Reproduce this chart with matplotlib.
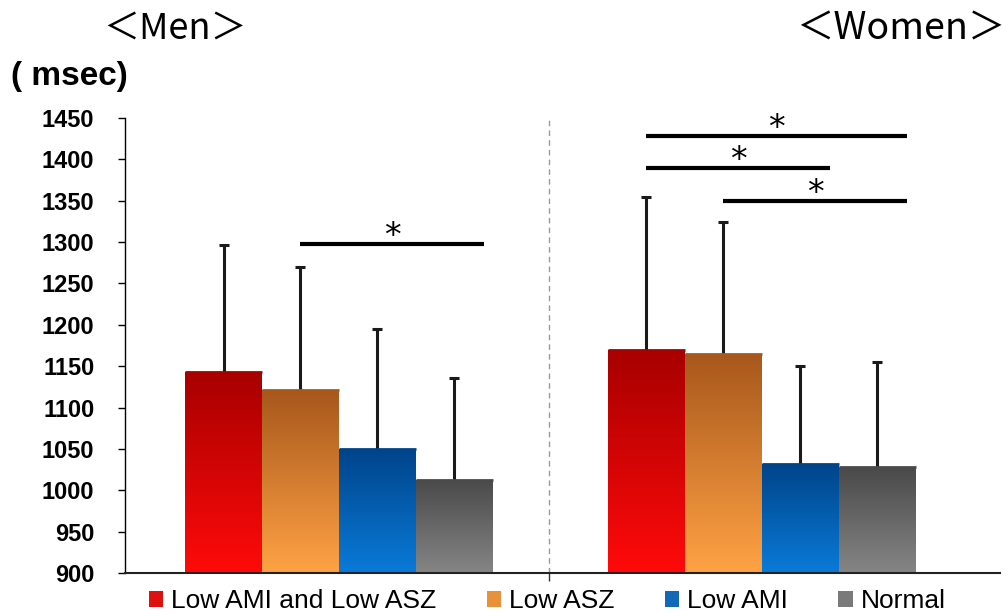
import matplotlib.pyplot as plt
import numpy as np
from matplotlib.colors import LinearSegmentedColormap
from matplotlib.patches import Patch

plt.rcParams["font.family"] = ["Liberation Sans", "DejaVu Sans"]

# data (msec)
groups = ["Men", "Women"]
categories = ["Low AMI and Low ASZ", "Low ASZ", "Low AMI", "Normal"]
means = {
    "Men":   [1143, 1121, 1050, 1013],
    "Women": [1170, 1165, 1032, 1028],
}
upper_err = {
    "Men":   [154, 149, 145, 123],
    "Women": [185, 159, 118, 127],
}
# significance brackets: (group, start bar, end bar, level)
brackets = [
    ("Men", 1, 3, 1298),
    ("Women", 0, 3, 1428),
    ("Women", 0, 2, 1390),
    ("Women", 1, 3, 1350),
]
y_ticks = np.arange(900, 1451, 50)

# gradient colours (top, bottom) per category
grad = [("#a80000", "#ff0a0a"), ("#a8581c", "#ffa245"),
        ("#00448a", "#0a7ad8"), ("#4a4a4a", "#858585")]
legend_colors = ["#e01010", "#e8903a", "#1468b8", "#7a7a7a"]

bar_w = 0.182
offsets = (np.arange(4) - 1.5) * bar_w

fig = plt.figure(figsize=(10.08, 6.16), dpi=100)
ax = fig.add_axes([0.124, 0.0698, 0.868, 0.7386])
ax.set_xlim(-0.506, 1.563)
ax.set_ylim(900, 1450)

ramp = np.linspace(0, 1, 64).reshape(-1, 1)
for gi, g in enumerate(groups):
    xs = gi + offsets
    tops = np.array(means[g]) + np.array(upper_err[g])
    # upper error bars only (drawn behind the bars)
    ax.vlines(xs, means[g], tops, color="#1a1a1a", lw=2.2, zorder=1.5)
    ax.plot(xs, tops, ls="none", marker="_", ms=7, mew=2.2,
            color="#1a1a1a", zorder=1.5)
    for i, x in enumerate(xs):
        top = means[g][i]
        cmap = LinearSegmentedColormap.from_list("g", [grad[i][1], grad[i][0]])
        bar = ax.bar(x, top - 900, bar_w, bottom=900, color="none",
                     edgecolor="none", zorder=2)[0]
        im = ax.imshow(ramp, cmap=cmap, aspect="auto", origin="lower",
                       extent=[x - bar_w / 2, x + bar_w / 2, 900, top],
                       zorder=2, interpolation="bilinear")
        im.set_clip_path(bar)
        # thin bevel on top
        ax.plot([x - bar_w / 2, x + bar_w / 2], [top, top], color=grad[i][0],
                lw=2, zorder=3, solid_capstyle="butt")

for g, b0, b1, lvl in brackets:
    gi = groups.index(g)
    x0 = gi + offsets[b0]
    x1 = gi + offsets[b1] + 0.07
    ax.plot([x0, x1], [lvl, lvl], color="black", lw=3, zorder=5,
            solid_capstyle="butt")
    ax.annotate("*", ((x0 + x1) / 2, lvl), xytext=(0, -1.5),
                textcoords="offset points", ha="center", va="baseline",
                fontsize=24, family="DejaVu Sans")

ax.axvline(0.496, color="#999999", lw=1, ls=(0, (4, 3)), zorder=1)

ax.set_yticks(y_ticks)
ax.set_yticklabels([str(v) for v in y_ticks], fontsize=17, fontweight="bold")
ax.set_xticks([0.496])
ax.set_xticklabels([""])
ax.tick_params(axis="x", length=6, width=1, color="#333333")
ax.tick_params(axis="y", length=5, width=1, pad=17)
for s in ("top", "right"):
    ax.spines[s].set_visible(False)
ax.spines["left"].set_linewidth(1)
ax.spines["bottom"].set_linewidth(1.5)
ax.spines["bottom"].set_color("#222222")

fig.text(0.011, 0.876, "( msec)", fontsize=24, fontweight="bold", va="center")
fig.text(0.102, 0.953, "＜Men＞", fontsize=26, va="center",
         family=["Noto Sans CJK JP", "DejaVu Sans"])
fig.text(0.997, 0.953, "＜Women＞", fontsize=27, va="center", ha="right",
         family=["Noto Sans CJK JP", "DejaVu Sans"])

handles = [Patch(facecolor=c, edgecolor="none") for c in legend_colors]
fig.legend(handles, categories, loc="lower center", ncol=4,
           bbox_to_anchor=(0.543, -0.034), frameon=False, fontsize=19,
           handlelength=0.55, handleheight=0.55, handletextpad=0.3,
           columnspacing=1.9)

fig.savefig("out.png", dpi=100)
